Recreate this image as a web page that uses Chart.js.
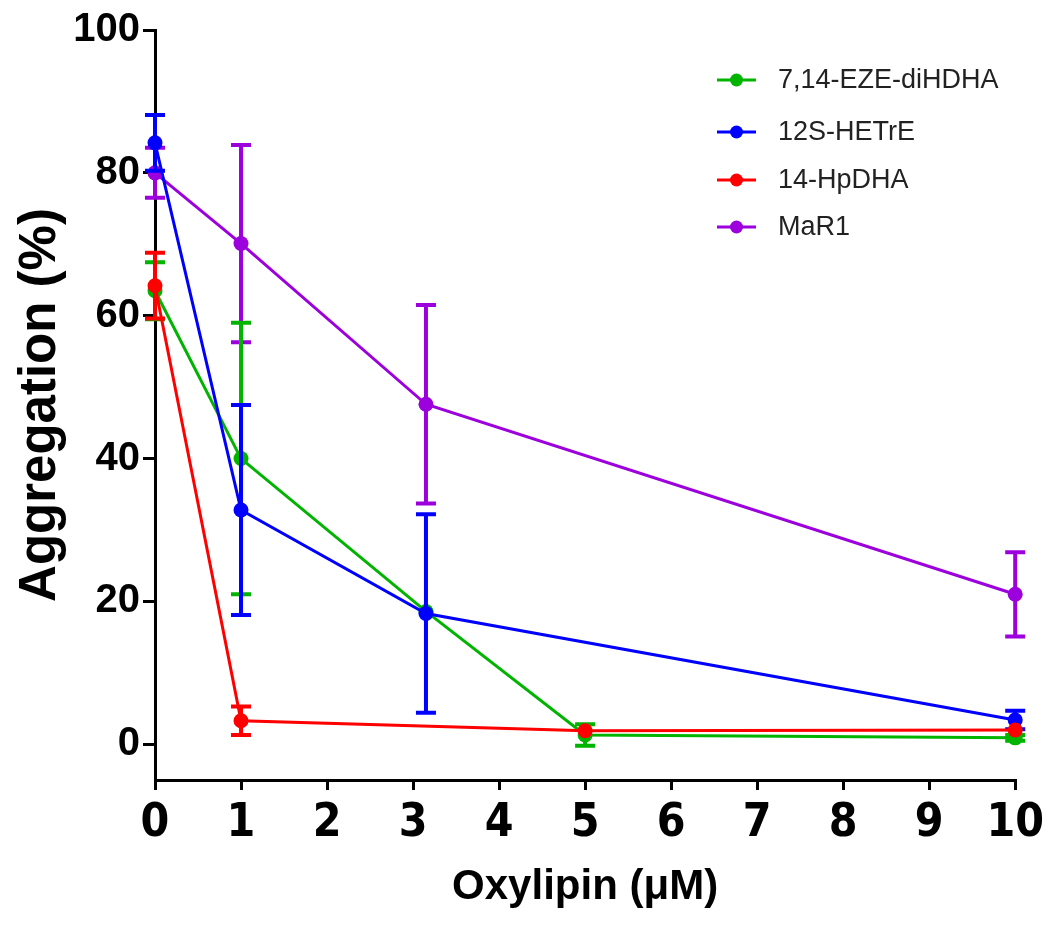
<!DOCTYPE html>
<html>
<head>
<meta charset="utf-8">
<script src="https://cdn.jsdelivr.net/npm/chart.js@4.4.0/dist/chart.umd.min.js"></script>
<style>
  html, body { margin: 0; padding: 0; background: #ffffff; }
  #wrap { width: 1050px; height: 925px; }
</style>
</head>
<body>
<div id="wrap"><canvas id="c" width="1050" height="925"></canvas></div>
<script>
// ---- data ----
const seriesLabels = ['7,14-EZE-diHDHA', '12S-HETrE', '14-HpDHA', 'MaR1'];

const greenX = [0, 1, 3.15, 5, 10];
const greenY = [63.5, 40.0, 18.6, 1.3, 0.9];
const greenErr = [4.0, 19.0, 0, 1.5, 0.4];

const blueX = [0, 1, 3.15, 10];
const blueY = [84.2, 32.8, 18.3, 3.4];
const blueErr = [3.9, 14.7, 13.9, 1.3];

const redX = [0, 1, 5, 10];
const redY = [64.2, 3.3, 1.9, 2.0];
const redErr = [4.6, 2.0, 0, 0];

const purpleX = [0, 1, 3.15, 10];
const purpleY = [80.0, 70.1, 47.6, 21.0];
const purpleErr = [3.5, 13.8, 13.9, 5.9];

const xTicks = [0, 1, 2, 3, 4, 5, 6, 7, 8, 9, 10];
const yTicks = [0, 20, 40, 60, 80, 100];

const colors = ['#00b400', '#0000ff', '#ff0000', '#9c00dc'];

function pts(xs, ys) { return xs.map((x, i) => ({ x: x, y: ys[i] })); }

const FONT = "'Liberation Sans', Arial, Helvetica, sans-serif";
const NARROW = "'Liberation Sans Narrow', 'Arial Narrow', 'DejaVu Sans Condensed', Arial, sans-serif";

const errorBarPlugin = {
  id: 'errorBars',
  beforeDatasetDraw(chart, args) {
    const ds = chart.data.datasets[args.index];
    if (!ds.errors) return;
    const xs = chart.scales.x, ys = chart.scales.y;
    const ctx = chart.ctx;
    ctx.save();
    ctx.strokeStyle = ds.borderColor;
    ctx.lineWidth = 4;
    ctx.lineCap = 'butt';
    ds.data.forEach((p, i) => {
      const e = ds.errors[i];
      if (!e) return;
      const px = xs.getPixelForValue(p.x);
      const top = ys.getPixelForValue(p.y + e);
      const bot = ys.getPixelForValue(p.y - e);
      ctx.beginPath();
      ctx.moveTo(px, top); ctx.lineTo(px, bot);
      ctx.moveTo(px - 10, top); ctx.lineTo(px + 10, top);
      ctx.moveTo(px - 10, bot); ctx.lineTo(px + 10, bot);
      ctx.stroke();
    });
    ctx.restore();
  }
};

const legendPlugin = {
  id: 'insideLegend',
  afterDraw(chart) {
    const ctx = chart.ctx;
    const order = [0, 1, 2, 3];
    const x0 = 717, lineLen = 39, textX = 778;
    const ys = [80, 132, 180, 227];
    ctx.save();
    order.forEach((di, k) => {
      const ds = chart.data.datasets[di];
      const y = ys[k];
      ctx.strokeStyle = ds.borderColor;
      ctx.lineWidth = 3;
      ctx.beginPath();
      ctx.moveTo(x0, y); ctx.lineTo(x0 + lineLen, y);
      ctx.stroke();
      ctx.fillStyle = ds.borderColor;
      ctx.beginPath();
      ctx.arc(x0 + lineLen / 2, y, 6.5, 0, Math.PI * 2);
      ctx.fill();
      ctx.fillStyle = '#222222';
      ctx.font = "27px " + FONT;
      ctx.textBaseline = 'middle';
      ctx.textAlign = 'left';
      ctx.fillText(ds.label, textX, y + 1);
    });
    ctx.restore();
  }
};

function mk(i, xs, ys, errs, order) {
  return {
    label: seriesLabels[i],
    data: pts(xs, ys),
    errors: errs,
    borderColor: colors[i],
    backgroundColor: colors[i],
    borderWidth: 3,
    pointRadius: 7.5,
    pointHoverRadius: 7.5,
    pointBorderWidth: 0,
    tension: 0,
    clip: false,
    order: order
  };
}

new Chart(document.getElementById('c'), {
  type: 'line',
  data: {
    datasets: [
      mk(0, greenX, greenY, greenErr, 3),
      mk(1, blueX, blueY, blueErr, 2),
      mk(2, redX, redY, redErr, 1),
      mk(3, purpleX, purpleY, purpleErr, 4)
    ]
  },
  options: {
    responsive: false,
    animation: false,
    events: [],
    layout: { padding: { left: 0, right: 33, top: 30, bottom: 0 } },
    plugins: { legend: { display: false }, tooltip: { enabled: false } },
    scales: {
      x: {
        type: 'linear',
        min: 0, max: 10,
        afterBuildTicks(scale) { scale.ticks = xTicks.map(v => ({ value: v })); },
        afterFit(scale) { scale.height = 145; },
        grid: { drawOnChartArea: false, color: '#000', lineWidth: 3, tickLength: 10, tickWidth: 3, tickColor: '#000' },
        border: { color: '#000', width: 3 },
        ticks: { color: '#000', font: { family: NARROW, size: 46, weight: 'bold' }, padding: 6, maxRotation: 0 },
        title: { display: true, text: 'Oxylipin (\u03bcM)', color: '#000', font: { family: FONT, size: 42, weight: 'bold' }, padding: { top: 0, bottom: 12 } }
      },
      y: {
        type: 'linear',
        min: -5, max: 100,
        afterBuildTicks(scale) { scale.ticks = yTicks.map(v => ({ value: v })); },
        afterFit(scale) { scale.width = 155; },
        grid: { drawOnChartArea: false, color: '#000', lineWidth: 3, tickLength: 12, tickWidth: 3, tickColor: '#000' },
        border: { color: '#000', width: 3 },
        ticks: { color: '#000', font: { family: FONT, size: 40, weight: 'bold' }, padding: 3 },
        title: { display: true, text: 'Aggregation (%)', color: '#000', font: { family: FONT, size: 51, weight: 'bold' }, padding: { top: 10, bottom: 0 } }
      }
    }
  },
  plugins: [errorBarPlugin, legendPlugin]
});
</script>
</body>
</html>
